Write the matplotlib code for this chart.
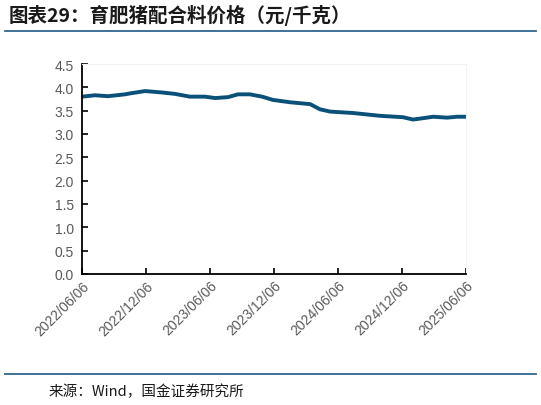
import matplotlib.pyplot as plt
import matplotlib.dates as mdates
import pandas as pd

plt.rcParams["font.family"] = ["Liberation Sans", "Noto Sans CJK SC", "DejaVu Sans"]

# values (yuan per kg)
dates = [
    "2022-06-06", "2022-07-13", "2022-08-19", "2022-10-07", "2022-10-21",
    "2022-12-03", "2023-01-20", "2023-02-26", "2023-04-10", "2023-05-23",
    "2023-06-21", "2023-07-28", "2023-08-25", "2023-09-28", "2023-11-02",
    "2023-12-03", "2024-01-21", "2024-03-18", "2024-04-15", "2024-05-14",
    "2024-07-18", "2024-10-03", "2024-12-08", "2025-01-06", "2025-01-26",
    "2025-03-04", "2025-04-13", "2025-05-11", "2025-06-06",
]
price = [
    3.80, 3.83, 3.81, 3.85, 3.87,
    3.92, 3.89, 3.86, 3.80, 3.80,
    3.77, 3.79, 3.85, 3.85, 3.80,
    3.73, 3.68, 3.64, 3.53, 3.48,
    3.45, 3.39, 3.36, 3.31, 3.33,
    3.37, 3.35, 3.37, 3.37,
]
tick_dates = ["2022-06-06", "2022-12-06", "2023-06-06", "2023-12-06",
              "2024-06-06", "2024-12-06", "2025-06-06"]

title = "图表29：育肥猪配合料价格（元/千克）"
source = "来源：Wind，国金证券研究所"

df = pd.DataFrame({"date": pd.to_datetime(dates), "price": price})

fig = plt.figure(figsize=(5.41, 4.06), dpi=100)
ax = fig.add_axes([0.1516, 0.3227, 0.7098, 0.5172])

ax.plot(df["date"], df["price"], color="#0b5079", linewidth=2.8,
        solid_capstyle="round", solid_joinstyle="round")

ax.set_ylim(0, 4.5)
ax.set_yticks([i * 0.5 for i in range(10)])
ax.yaxis.set_major_formatter(plt.FormatStrFormatter("%.1f"))
ax.set_xlim(pd.Timestamp("2022-06-06"), pd.Timestamp("2025-06-06"))
ax.set_xticks(pd.to_datetime(tick_dates))
ax.xaxis.set_major_formatter(mdates.DateFormatter("%Y/%m/%d"))

for lbl in ax.get_xticklabels():
    lbl.set_rotation(45)
    lbl.set_ha("right")
    lbl.set_rotation_mode("anchor")

ax.tick_params(axis="both", direction="in", length=4, width=1.2,
               labelsize=10, labelcolor="#595959", color="black")
ax.tick_params(axis="y", pad=6)
ax.tick_params(axis="x", pad=3)

for s in ["left", "bottom"]:
    ax.spines[s].set_linewidth(1.3)
    ax.spines[s].set_color("black")
for s in ["top", "right"]:
    ax.spines[s].set_linewidth(0.8)
    ax.spines[s].set_color("#f2f2f2")

fig.text(0.016, 0.962, title, fontsize=14, fontweight="bold",
         color="#1a1a1a", family=["Noto Sans CJK SC"], va="center")
fig.add_artist(plt.Line2D([0.01, 0.99], [0.920, 0.920], color="#2f6690",
                          linewidth=1.3))
fig.add_artist(plt.Line2D([0.01, 0.99], [0.0764, 0.0764], color="#2f6690",
                          linewidth=1.3))
fig.text(0.09, 0.034, source, fontsize=10.5, color="#1a1a1a",
         family=["Noto Sans CJK SC"], va="center")

fig.savefig("out.png", dpi=100)
